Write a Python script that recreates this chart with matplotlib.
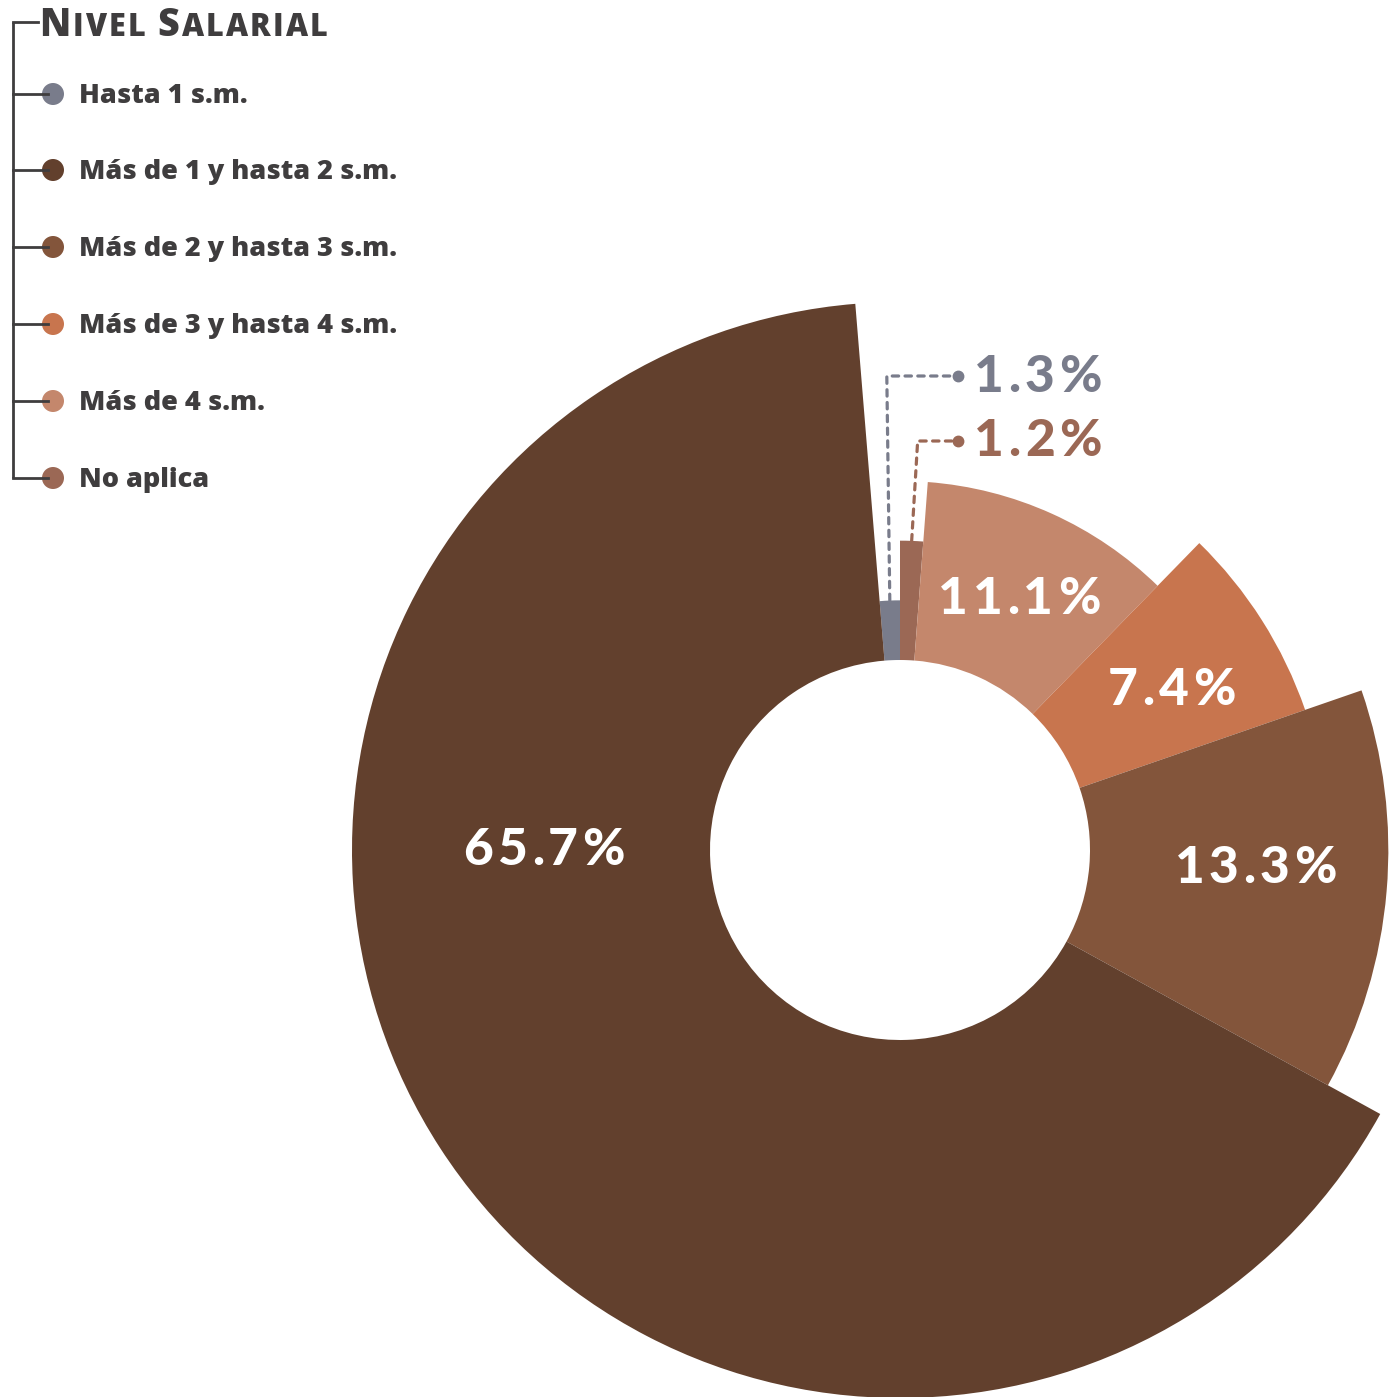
import numpy as np
import matplotlib
matplotlib.use('agg')
from matplotlib import pyplot as plt
from matplotlib.patches import Wedge, Circle

# datos
categorias = ['Hasta 1 s.m.', 'No aplica', 'Más de 4 s.m.', 'Más de 3 y hasta 4 s.m.',
              'Más de 2 y hasta 3 s.m.', 'Más de 1 y hasta 2 s.m.']
valores = [1.3, 1.2, 11.1, 7.4, 13.3, 65.7]
colores = ['#797c8b', '#9b6855', '#c4876c', '#c8754e', '#83553b', '#62402d']

leyenda = ['Hasta 1 s.m.', 'Más de 1 y hasta 2 s.m.', 'Más de 2 y hasta 3 s.m.',
           'Más de 3 y hasta 4 s.m.', 'Más de 4 s.m.', 'No aplica']
leyenda_col = ['#797c8b', '#62402d', '#83553b', '#c8754e', '#c4876c', '#9b6855']

W = 1397
fig = plt.figure(figsize=(W / 100, W / 100), dpi=100)
ax = fig.add_axes([0, 0, 1, 1])
ax.set_xlim(0, W)
ax.set_ylim(W, 0)
ax.set_aspect('equal')
ax.axis('off')
renderer = fig.canvas.get_renderer()

cx, cy = 900, 850
r_in = 190
r_max = 548
step = (r_max - r_in) / len(valores)
start = -valores[0] * 3.6  # primer sector termina en la vertical

FONT = 'Lato'
FONT_LEG = 'Open Sans'
texto_col = '#3f3d3e'


def texto_espaciado(x, y, s, track, ha='center', va='center', **kw):
    # matplotlib no tiene letter-spacing: se dibuja letra por letra
    ts = [ax.text(0, y, ch, ha='left', va=va, **kw) for ch in s]
    ws = [t.get_window_extent(renderer=renderer).width for t in ts]
    total = sum(ws) + track * (len(s) - 1)
    x0 = x - total / 2 if ha == 'center' else x
    for t, w in zip(ts, ws):
        t.set_x(x0)
        x0 += w + track
    return x0


angs = start + np.concatenate([[0], np.cumsum(valores)]) * 3.6
mids = []
radios = []
for i, (v, c) in enumerate(zip(valores, colores)):
    r_out = r_in + step * (i + 1)
    a0, a1 = angs[i], angs[i + 1]
    ax.add_patch(Wedge((cx, cy), r_out, a0 - 90, a1 - 90, width=r_out - r_in,
                       facecolor=c, edgecolor='none'))
    mids.append((a0 + a1) / 2)
    radios.append(r_out)


def polar(a, r):
    t = np.deg2rad(a)
    return cx + r * np.sin(t), cy - r * np.cos(t)


# etiquetas internas (angulo, radio)
internas = {2: (25.5, 277), 3: (59.5, 315), 4: (93, 356), 5: (270, 356)}
for i, (a, r) in internas.items():
    x, y = polar(a, r)
    texto_espaciado(x, y, f'{valores[i]:.1f}%', 4.5, color='white', fontsize=37,
                    fontfamily=FONT, fontweight='black')

# etiquetas externas con guia punteada
externas = {0: 376, 1: 441}
for i, ylab in externas.items():
    x0, y0 = polar(mids[i], radios[i])
    xs = [x0, x0 + (6 if i == 1 else -3), 958]
    ys = [y0, ylab, ylab]
    ax.plot(xs, ys, color=colores[i], lw=2.3, dashes=(2.0, 2.0), dash_capstyle='round',
            solid_capstyle='round')
    ax.plot(958, ylab, 'o', color=colores[i], ms=7.5)
    texto_espaciado(974, ylab + 1, f'{valores[i]:.1f}%', 4.5, ha='left', color=colores[i],
                    fontsize=37, fontfamily=FONT, fontweight='black')

# leyenda
lx = 13
item_y = [94, 170, 247, 324, 401, 478]
ax.plot([lx, lx], [22, item_y[-1]], color=texto_col, lw=2, solid_capstyle='butt')
ax.plot([lx, 38], [22, 22], color=texto_col, lw=2)
for y, lab, c in zip(item_y, leyenda, leyenda_col):
    ax.plot([lx, 48], [y, y], color=texto_col, lw=2)
    ax.add_patch(Circle((53, y), 11, facecolor=c, edgecolor='none'))
    ax.text(79, y + 2, lab, color=texto_col, fontsize=19.5, fontfamily=FONT_LEG,
            fontweight='heavy', ha='left', va='center')

# titulo en versalitas
x = 39
partes = [('N', 27), ('IVEL ', 22), ('S', 27), ('ALARIAL', 22)]
for txt, fs in partes:
    x = texto_espaciado(x, 36, txt, 2.2, ha='left', va='baseline', color=texto_col,
                        fontsize=fs, fontfamily=FONT_LEG, fontweight='heavy')

fig.savefig('out.png', dpi=100)
